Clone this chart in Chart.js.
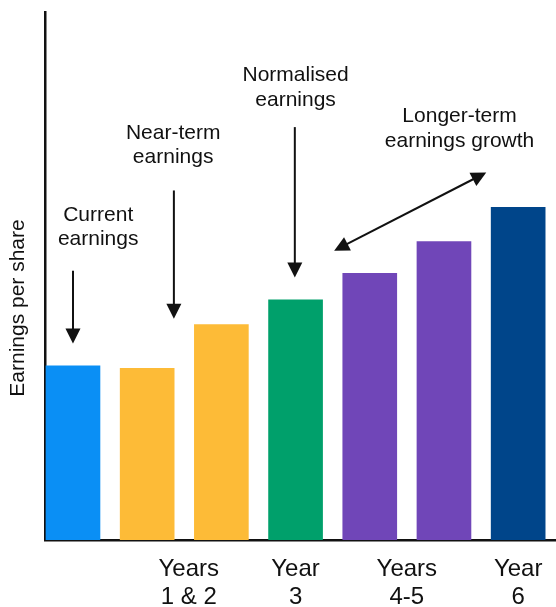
<!DOCTYPE html>
<html>
<head>
<meta charset="utf-8">
<script src="https://cdn.jsdelivr.net/npm/chart.js@4.4.1/dist/chart.umd.min.js"></script>
<style>
  html, body { margin: 0; padding: 0; background: #fff; }
  #wrap { width: 556px; height: 607px; }
</style>
</head>
<body>
<div id="wrap"><canvas id="eps"></canvas></div>
<script>
// === DATA ===
const periods = [0, 1, 2, 3, 4, 5, 6];              // bar slots, left to right
const eps = [3.30, 3.25, 4.08, 4.55, 5.05, 5.65, 6.30];
const barColors = ['#0A8FF5', '#FDBB37', '#FDBB37', '#00A06B', '#7046B8', '#7046B8', '#00458A'];
const tickPos = [1.56, 3, 4.5, 6];
const tickLabels = [['Years', '1 & 2'], ['Year', '3'], ['Years', '4-5'], ['Year', '6']];

// callouts (data units)
const notes = [
  { lines: ['Current', 'earnings'], x: 0.34, y: 6.05 },
  { lines: ['Near-term', 'earnings'], x: 1.35, y: 7.60 },
  { lines: ['Normalised', 'earnings'], x: 3.0, y: 8.69 },
  { lines: ['Longer-term', 'earnings growth'], x: 5.21, y: 7.91 }
];
const arrows = [
  { from: [0, 5.10], to: [0, 3.72] },
  { from: [1.36, 6.62], to: [1.36, 4.19] },
  { from: [2.99, 7.82], to: [2.99, 4.97] },
  { from: [3.52, 5.48], to: [5.57, 6.96], both: true }
];

const FONT = "'Liberation Sans', Arial, sans-serif";

function arrowHead(ctx, x0, y0, x1, y1) {
  const a = Math.atan2(y1 - y0, x1 - x0);
  const len = 15, half = 7.5;
  ctx.beginPath();
  ctx.moveTo(x1, y1);
  ctx.lineTo(x1 - len * Math.cos(a) + half * Math.sin(a), y1 - len * Math.sin(a) - half * Math.cos(a));
  ctx.lineTo(x1 - len * Math.cos(a) - half * Math.sin(a), y1 - len * Math.sin(a) + half * Math.cos(a));
  ctx.closePath();
  ctx.fill();
}

const callouts = {
  id: 'callouts',
  afterDraw(chart) {
    const { ctx, scales: { x, y } } = chart;
    ctx.save();
    ctx.fillStyle = '#111';
    ctx.strokeStyle = '#111';
    ctx.lineWidth = 2;
    ctx.font = '21px ' + FONT;
    ctx.textAlign = 'center';
    ctx.textBaseline = 'alphabetic';
    notes.forEach(n => {
      const px = x.getPixelForValue(n.x), py = y.getPixelForValue(n.y);
      n.lines.forEach((t, i) => ctx.fillText(t, px, py + i * 24.5));
    });
    arrows.forEach(a => {
      const x0 = x.getPixelForValue(a.from[0]), y0 = y.getPixelForValue(a.from[1]);
      const x1 = x.getPixelForValue(a.to[0]), y1 = y.getPixelForValue(a.to[1]);
      const ang = Math.atan2(y1 - y0, x1 - x0);
      const sx = a.both ? x0 + 12 * Math.cos(ang) : x0, sy = a.both ? y0 + 12 * Math.sin(ang) : y0;
      ctx.beginPath();
      ctx.moveTo(sx, sy);
      ctx.lineTo(x1 - 12 * Math.cos(ang), y1 - 12 * Math.sin(ang));
      ctx.stroke();
      arrowHead(ctx, x0, y0, x1, y1);
      if (a.both) arrowHead(ctx, x1, y1, x0, y0);
    });
    // y axis title
    ctx.translate(18, 308);
    ctx.rotate(-Math.PI / 2);
    ctx.textBaseline = 'middle';
    ctx.fillText('Earnings per share', 0, 0);
    ctx.restore();
  }
};

new Chart(document.getElementById('eps'), {
  type: 'bar',
  data: {
    datasets: [{
      data: periods.map((p, i) => ({ x: p, y: eps[i] })),
      backgroundColor: barColors,
      borderWidth: 0,
      barThickness: 54
    }]
  },
  options: {
    responsive: true,
    maintainAspectRatio: false,
    animation: false,
    layout: { padding: { top: 12, right: 0, left: 0, bottom: 0 } },
    plugins: { legend: { display: false }, tooltip: { enabled: false } },
    scales: {
      x: {
        type: 'linear',
        offset: false,
        min: -0.377,
        max: 6.51,
        grid: { display: false, drawTicks: false },
        border: { display: true, color: '#111', width: 2.5 },
        afterBuildTicks: s => { s.ticks = tickPos.map(v => ({ value: v })); },
        afterFit: s => { s.height = 67; s.paddingLeft = 0; s.paddingRight = 0; },
        ticks: {
          autoSkip: false,
          maxRotation: 0,
          padding: 16,
          color: '#111',
          font: { family: FONT, size: 24, lineHeight: 1.15 },
          callback: (v, i) => tickLabels[i]
        }
      },
      y: {
        min: 0,
        max: 10,
        grid: { display: false, drawTicks: false },
        border: { display: true, color: '#111', width: 2.5 },
        ticks: { display: false },
        afterFit: s => { s.width = 45; }
      }
    }
  },
  plugins: [callouts]
});
</script>
</body>
</html>
